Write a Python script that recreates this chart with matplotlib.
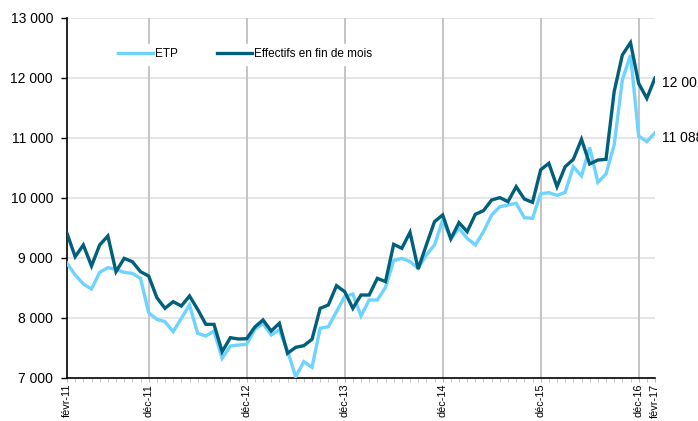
import matplotlib
matplotlib.use("Agg")
import matplotlib.pyplot as plt
from matplotlib.ticker import FixedLocator, MultipleLocator, FuncFormatter

plt.rcParams['font.family'] = ['Liberation Sans', 'DejaVu Sans']

# Monthly data, févr-2011 .. févr-2017 (73 months)
etp = [8911, 8717, 8567, 8483, 8761, 8839, 8811, 8761, 8744, 8661,
       8089, 7978, 7939, 7772, 7994, 8217, 7744, 7700, 7783, 7328,
       7533, 7550, 7561, 7810, 7911, 7717, 7800, 7456, 7022, 7272,
       7178, 7828, 7856, 8106, 8356, 8400, 8033, 8300, 8300, 8511,
       8956, 8994, 8939, 8828, 9050, 9217, 9633, 9320, 9494, 9328,
       9217, 9439, 9717, 9856, 9883, 9911, 9672, 9661, 10070, 10089,
       10044, 10094, 10522, 10367, 10844, 10261, 10400, 10883, 11967, 12383,
       11033, 10939, 11088]

effectifs = [9411, 9022, 9217, 8867, 9217, 9367, 8772, 8994, 8939, 8772,
             8700, 8340, 8161, 8272, 8200, 8367, 8144, 7894, 7894, 7439,
             7672, 7650, 7655, 7850, 7967, 7783, 7911, 7411, 7511, 7539,
             7644, 8161, 8217, 8539, 8439, 8161, 8383, 8383, 8661, 8606,
             9228, 9161, 9428, 8817, 9217, 9606, 9717, 9320, 9589, 9439,
             9728, 9789, 9967, 10006, 9939, 10189, 9983, 9928, 10470, 10578,
             10189, 10522, 10644, 10978, 10567, 10633, 10644, 11772, 12383, 12589,
             11911, 11661, 12001]

tick_idx = [0, 10, 22, 34, 46, 58, 70, 72]
tick_labels = ['févr-11', 'déc-11', 'déc-12', 'déc-13', 'déc-14', 'déc-15', 'déc-16', 'févr-17']
end_labels = ['11 088', '12 001']

x = list(range(len(etp)))

light = '#6DD3FF'
dark = '#005F7A'

fig = plt.figure(figsize=(6.98, 4.21), dpi=100)
ax = fig.add_axes([67/698, 1-378/421, (655-67)/698, (378-18)/421])

# gridlines
for yv in range(8000, 13001, 1000):
    ax.axhline(yv, color='#E3E3E3', lw=1.3, zorder=0)
for xi in tick_idx[1:-1]:
    ax.axvline(xi, color='#C4C4C4', lw=1.4, zorder=0)

l1, = ax.plot(x, etp, color=light, lw=2.4, solid_joinstyle='miter', label='ETP', zorder=3)
l2, = ax.plot(x, effectifs, color=dark, lw=2.4, solid_joinstyle='miter', label='Effectifs en fin de mois', zorder=4)

ax.set_xlim(0, 72)
ax.set_ylim(7000, 13000)

ax.yaxis.set_major_locator(MultipleLocator(1000))
ax.yaxis.set_major_formatter(FuncFormatter(lambda v, p: f"{int(v):,}".replace(',', ' ')))
ax.tick_params(axis='y', length=4.5, width=1, color='black', pad=5.5, labelsize=10)

ax.xaxis.set_major_locator(FixedLocator(tick_idx))
ax.set_xticklabels(tick_labels, rotation=90, fontsize=7.8)
ax.xaxis.set_minor_locator(MultipleLocator(1))
ax.tick_params(axis='x', which='major', length=3, color='#BBBBBB', pad=1.2)
ax.tick_params(axis='x', which='minor', length=3, color='#BBBBBB')

for s in ['top', 'right']:
    ax.spines[s].set_visible(False)
ax.spines['left'].set_linewidth(1.2)
ax.spines['bottom'].set_linewidth(1.2)

# end labels
ax.annotate(end_labels[0], xy=(x[-1], etp[-1]), xytext=(5, -4), textcoords='offset points',
            va='center', ha='left', fontsize=10, annotation_clip=False)
ax.annotate(end_labels[1], xy=(x[-1], effectifs[-1]), xytext=(5, -4), textcoords='offset points',
            va='center', ha='left', fontsize=10, annotation_clip=False)

leg = ax.legend(handles=[l1, l2], loc='upper left', bbox_to_anchor=(0.068, 0.945), ncol=2,
                frameon=True, fontsize=8.5, handlelength=3.0, handletextpad=0.15,
                columnspacing=3.3, borderpad=0.4)
leg.get_frame().set_edgecolor('white')
leg.get_frame().set_facecolor('white')
leg.get_frame().set_alpha(1)

fig.savefig('out.png', dpi=100)
